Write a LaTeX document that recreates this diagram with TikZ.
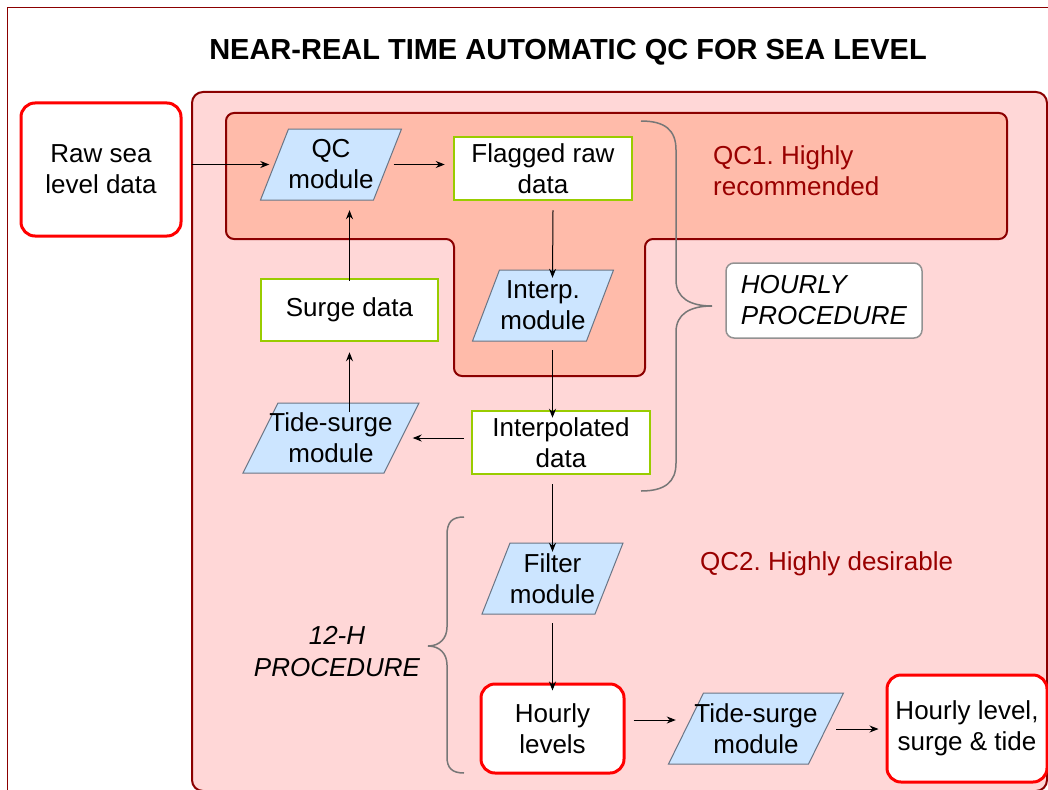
\documentclass[tikz,border=0pt]{standalone}
\usepackage{fontspec}
\setmainfont{Liberation Sans}
\usetikzlibrary{arrows.meta}
\frenchspacing
\definecolor{darkred}{HTML}{8B0000}
\definecolor{regionpink}{HTML}{FFD7D7}
\definecolor{tsalmon}{HTML}{FFBBAA}
\definecolor{modblue}{HTML}{CCE5FF}
\definecolor{modborder}{HTML}{6A7585}
\definecolor{datagreen}{HTML}{99CC00}
\definecolor{qctext}{HTML}{990000}
\definecolor{bracegray}{HTML}{777777}
\newcommand{\paramod}[7]{%
  \filldraw[modshape] (#2-#4/2+#6/2,#3-#5/2) -- (#2+#4/2+#6/2,#3-#5/2)
    -- (#2+#4/2-#6/2,#3+#5/2) -- (#2-#4/2-#6/2,#3+#5/2) -- cycle;
  \node[modtext,minimum width=#4,minimum height=#5] (#1) at (#2,#3) {#7};
}
\begin{document}
\begin{tikzpicture}[x=1pt,y=-1pt,
  every node/.style={font=\fontsize{26}{31}\selectfont\frenchspacing, inner sep=0pt},
  modshape/.style={fill=modblue, draw=modborder, line width=1pt},
  modtext/.style={align=center},
  databox/.style={draw=datagreen, fill=white, line width=2.5pt, align=center},
  endbox/.style={draw=red, fill=white, line width=3pt, rounded corners=14pt, align=center},
  procbox/.style={draw=bracegray!80, fill=white, line width=1.5pt, rounded corners=8pt, align=left},
  proctext/.style={align=center, font=\fontsize{26}{32}\selectfont\itshape},
  qclabel/.style={text=qctext, align=left},
  brace/.style={draw=bracegray, line width=1.5pt},
  arr/.style={-{Stealth[length=9pt,width=7pt]}, line width=1pt, black}]
\useasboundingbox (0,0) rectangle (1048,789);
\clip (0,0) rectangle (1048,789);
\fill[white] (0,0) rectangle (1048,789);
% outer frame
\draw[darkred, line width=1pt] (7,8) rectangle (1070,810);
% title
\node[font=\fontsize{29}{34}\selectfont\bfseries] (title) at (568,52) {NEAR-REAL TIME AUTOMATIC QC FOR SEA LEVEL};
% big region
\filldraw[fill=regionpink, draw=darkred, line width=2pt, rounded corners=11pt] (192,92) rectangle (1047,791);
% T region
\filldraw[fill=tsalmon, draw=darkred, line width=2pt, rounded corners=8pt]
  (226,113) -- (1007,113) -- (1007,239) -- (645,239) -- (645,376) -- (454,376) -- (454,239) -- (226,239) -- cycle;
% braces
\draw[brace] (641,121) .. controls (665,121) and (676,130) .. (676,150) -- (676,280)
  .. controls (676,298) and (690,306) .. (712,306)
  .. controls (690,306) and (676,314) .. (676,332) -- (676,463)
  .. controls (676,482) and (665,491) .. (641,491);
\draw[brace] (464,517) .. controls (452,517) and (447,522) .. (447,535) -- (447,627)
  .. controls (447,638) and (440,646) .. (428,646)
  .. controls (440,646) and (447,654) .. (447,665) -- (447,757)
  .. controls (447,768) and (452,773) .. (464,773);
% boxes
\node[endbox, minimum width=160, minimum height=133] (raw) at (101,169.5) {Raw sea\\level data};
\node[databox, minimum width=178, minimum height=63] (flag) at (543,168.5) {Flagged raw\\data};
\node[databox, minimum width=177, minimum height=62] (surge) at (349.5,310) {Surge data};
\node[databox, minimum width=178, minimum height=63] (interpd) at (561,442.5) {Interpolated\\data};
\node[endbox, minimum width=143, minimum height=89] (hourly) at (552.5,728.5) {Hourly\\levels};
\node[endbox, minimum width=160, minimum height=107] (final) at (967,728.5) {Hourly level,\\surge \& tide};
\node[procbox, minimum width=196, minimum height=75] (hp) at (824,300.5) {\itshape HOURLY\\\itshape PROCEDURE};
% modules
\paramod{qc}{331}{164.5}{113}{71}{28}{QC\\module}
\paramod{interp}{543}{305.5}{114}{71}{27}{Interp.\\module}
\paramod{ts1}{331}{438}{141}{70}{35}{Tide-surge\\module}
\paramod{filt}{552.5}{578.5}{113}{71}{28}{Filter\\module}
\paramod{ts2}{756}{728.5}{140}{71}{35}{Tide-surge\\module}
% labels
\node[qclabel, anchor=west] (qc1) at (713,171) {QC1. Highly\\recommended};
\node[qclabel, anchor=west] (qc2) at (700,564) {QC2. Highly desirable};
\node[proctext] (twelve) at (337,652) {12-H\\PROCEDURE};
% arrows
\draw[arr] ([xshift=9]raw.east |- qc.west) -- ([xshift=-5]qc.west);
\draw[arr] ([xshift=6]qc.east) -- ([xshift=-8]flag.west |- qc.east);
\draw[arr] ([xshift=10,yshift=-9]flag.south) -- ([yshift=-8]interp.north -| filt.north);
\draw[arr] ([yshift=-3]surge.north) -- ([yshift=-10]qc.south -| surge.north);
\draw[arr] ([yshift=-9]ts1.north -| surge.south) -- ([yshift=-10]surge.south);
\draw[arr] ([yshift=-9]interp.south -| filt.north) -- ([yshift=-8]interpd.north -| filt.north);
\draw[arr] ([xshift=-7]interpd.west |- ts1.east) -- ([xshift=11]ts1.east);
\draw[arr] ([yshift=-9]interpd.south -| filt.north) -- ([yshift=-9]filt.north);
\draw[arr] ([yshift=-9]filt.south) -- ([yshift=-8]hourly.north);
\draw[arr] ([xshift=8]hourly.east |- 0,720) -- ([xshift=-10]ts2.west |- 0,720);
\draw[arr] ([xshift=10]ts2.east |- 0,729) -- ([xshift=-7]final.west |- 0,729);
\end{tikzpicture}
\end{document}
